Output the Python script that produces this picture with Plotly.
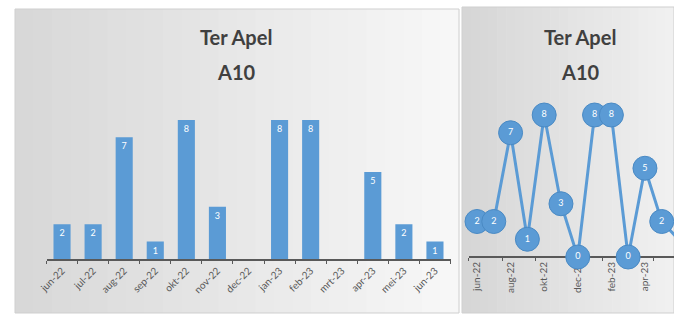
import plotly.graph_objects as go

# monthly counts, Ter Apel A10
months = ['jun-22', 'jul-22', 'aug-22', 'sep-22', 'okt-22', 'nov-22', 'dec-22',
          'jan-23', 'feb-23', 'mrt-23', 'apr-23', 'mei-23', 'jun-23']
a10_count = [2, 2, 7, 1, 8, 3, 0, 8, 8, 0, 5, 2, 1]
line_ticks = months[::2]

W, H = 674, 320
blue = '#5b9bd5'
grey_text = '#595959'


def px(x):
    return x / W


def py(y):
    return 1 - y / H


bar_labels = [str(v) if v else '' for v in a10_count]
point_labels = [str(v) for v in a10_count]

data = [
    go.Bar(x=months, y=a10_count, marker=dict(color=blue, line=dict(width=0)),
           text=bar_labels, textposition='inside', insidetextanchor='end',
           textangle=0, textfont=dict(color='white', size=9, family='Lato'),
           xaxis='x', yaxis='y', hoverinfo='x+y'),
    go.Scatter(x=months, y=a10_count, mode='lines+markers+text',
               line=dict(color=blue, width=3),
               marker=dict(size=24, color=blue, line=dict(width=1, color='#4a8ac4')),
               text=point_labels, textposition='middle center',
               textfont=dict(color='white', size=9, family='Lato'),
               cliponaxis=False, xaxis='x2', yaxis='y2', hoverinfo='x+y'),
]

# panel backgrounds: grey on the left fading to near white
shapes = []


def panel(x0, x1, y0, y1, c_left, c_right, n=24):
    step = (x1 - x0) / n
    for i in range(n):
        t = i / (n - 1)
        c = tuple(round(a + (b - a) * t) for a, b in zip(c_left, c_right))
        shapes.append(dict(type='rect', xref='paper', yref='paper', layer='below',
                           x0=px(x0 + i * step), x1=px(x0 + (i + 1) * step + 0.5),
                           y0=py(y1), y1=py(y0), line=dict(width=0),
                           fillcolor='rgb(%d,%d,%d)' % c))
    shapes.append(dict(type='rect', xref='paper', yref='paper', layer='below',
                       x0=px(x0), x1=px(x1), y0=py(y1), y1=py(y0),
                       line=dict(width=1, color='#cfcfcf'), fillcolor='rgba(0,0,0,0)'))


panel(15, 459, 9, 313, (216, 216, 216), (247, 247, 247))
panel(462, 674, 7, 313, (214, 214, 214), (240, 240, 240))

title_font = dict(family='Lato', size=20, color='#404040')
annotations = []
for cx in (236, 580):
    annotations.append(dict(text='<b>Ter Apel</b>', x=px(cx), y=py(37), xref='paper', yref='paper',
                            showarrow=False, font=title_font, xanchor='center', yanchor='middle'))
    annotations.append(dict(text='<b>A10</b>', x=px(cx), y=py(72), xref='paper', yref='paper',
                            showarrow=False, font=title_font, xanchor='center', yanchor='middle'))

tick_font = dict(size=10, color=grey_text, family='Lato')

layout = go.Layout(
    width=W, height=H, margin=dict(l=0, r=0, t=0, b=0, autoexpand=False),
    paper_bgcolor='white', plot_bgcolor='rgba(0,0,0,0)',
    showlegend=False, bargap=0.45,
    xaxis=dict(domain=[px(46.5), px(450.5)], type='category', categoryorder='array',
               categoryarray=months, tickangle=-45, tickson='boundaries',
               ticks='outside', ticklen=3, tickcolor=grey_text, tickfont=tick_font,
               showline=True, linecolor=grey_text, linewidth=2, showgrid=False,
               anchor='y', fixedrange=True),
    yaxis=dict(domain=[py(259), py(102.6)], range=[0, 9], visible=False,
               anchor='x', fixedrange=True),
    xaxis2=dict(domain=[px(468.6), 1], type='category', categoryorder='array',
                categoryarray=months, range=[-0.5, 11.73], tickvals=line_ticks,
                tickangle=-90, tickson='boundaries', ticks='outside', ticklen=3,
                tickcolor=grey_text, tickfont=tick_font, layer='below traces',
                showline=True, linecolor=grey_text, linewidth=2, showgrid=False,
                anchor='free', position=py(257), fixedrange=True),
    yaxis2=dict(domain=[py(271.2), py(97.25)], range=[-0.8, 9], visible=False,
                anchor='x2', fixedrange=True),
    shapes=shapes, annotations=annotations,
)

fig = go.Figure(data=data, layout=layout)
# drop the browser's default body margin so the figure sits at the page corner
fig.write_html('out.html', config={'displayModeBar': False},
               post_script="document.body.style.margin='0';")
